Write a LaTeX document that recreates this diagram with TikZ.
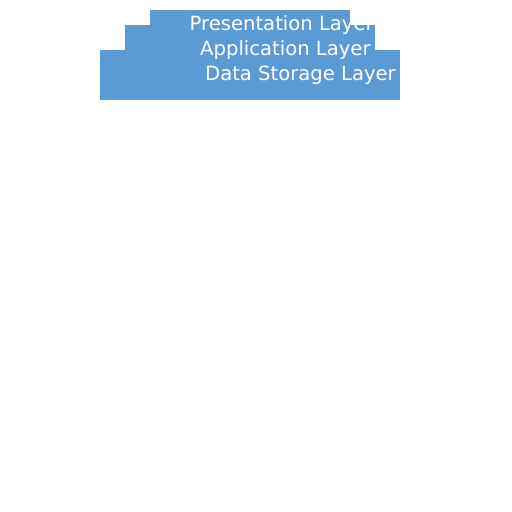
\documentclass[tikz,border=0pt]{standalone}
\usepackage{fontspec}
\setmainfont{DejaVu Sans}
\definecolor{layerblue}{HTML}{5B9BD5}
\begin{document}
\begin{tikzpicture}[x=1pt,y=-1pt,
  layer/.style={fill=layerblue,draw=none},
  lbl/.style={anchor=base west,inner sep=0pt,text=white,font=\fontsize{19.6pt}{23pt}\selectfont}]
\useasboundingbox (0,0) rectangle (512,512);
\fill[white] (0,0) rectangle (512,512);
\path[layer] (100,50) rectangle (400,100);
\path[layer] (125,25) rectangle (375,75);
\path[layer] (150,10) rectangle (350,50);
\node[lbl] (pres) at (189.5,30.3) {Presentation Layer};
\node[lbl] (app) at (200,55.3) {Application Layer};
\node[lbl] (data) at (205,80.3) {Data Storage Layer};
\end{tikzpicture}
\end{document}
